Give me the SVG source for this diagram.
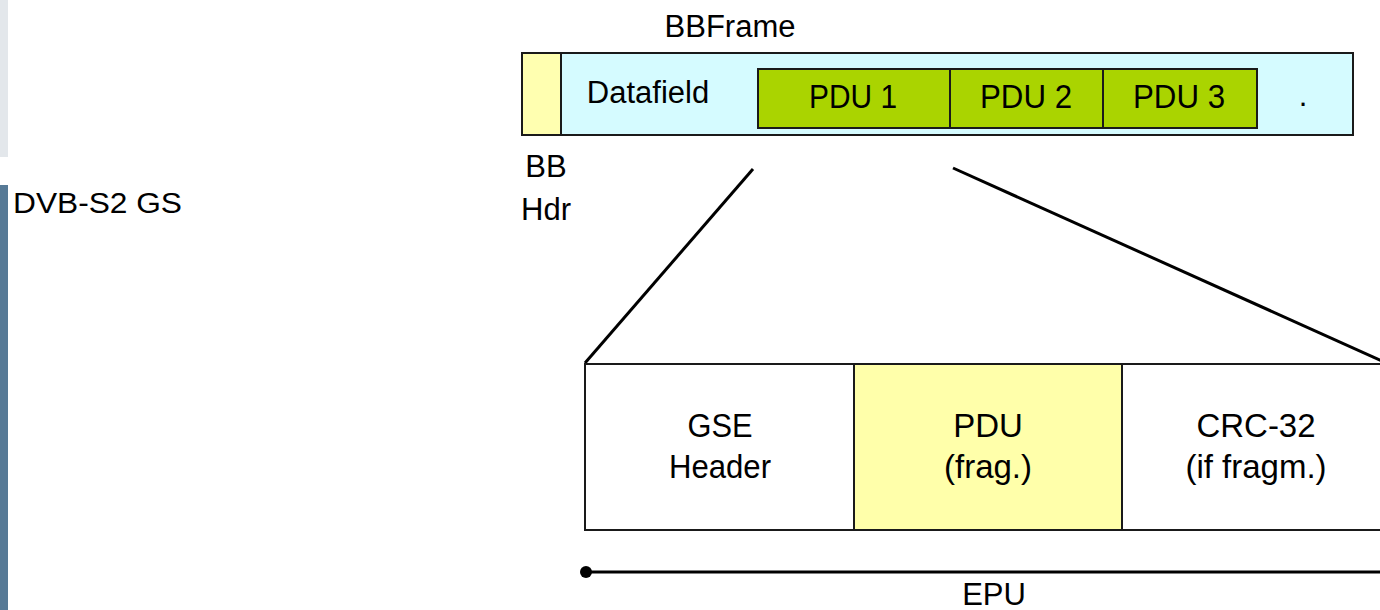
<svg xmlns="http://www.w3.org/2000/svg" width="1380" height="610" viewBox="0 0 1380 610">
<style>
text{font-family:"Liberation Sans",Arial,sans-serif;fill:#000;text-anchor:middle}
.box{stroke:#1a1a1a;stroke-width:2}
.ln{stroke:#000;stroke-width:3;fill:none}
</style>
<rect width="1380" height="610" fill="#fff"/>
<rect x="0" y="0" width="8" height="157" fill="#e3e7eb"/>
<rect x="0" y="185" width="8" height="425" fill="#577a96"/>
<text x="13" y="213" font-size="29" style="text-anchor:start" textLength="169" lengthAdjust="spacingAndGlyphs">DVB-S2 GS</text>

<g id="bbframe">
<text x="730" y="37" font-size="31">BBFrame</text>
<rect class="box" x="522" y="53" width="831" height="82" fill="#d5fbff"/>
<text x="648" y="103" font-size="31">Datafield</text>
<text x="1303" y="106" font-size="31">.</text>
</g>
<g id="bbhdr">
<rect class="box" x="522" y="53" width="39" height="82" fill="#ffffb0"/>
<text x="546" y="177" font-size="31">BB</text>
<text x="546" y="220" font-size="31">Hdr</text>
</g>
<g id="pdu1">
<rect class="box" x="758" y="69" width="192" height="59" fill="#aad400"/>
<text x="853" y="108" font-size="34" textLength="88" lengthAdjust="spacingAndGlyphs">PDU 1</text>
</g>
<g id="pdu2">
<rect class="box" x="950" y="69" width="153" height="59" fill="#aad400"/>
<text x="1026" y="108" font-size="34" textLength="92" lengthAdjust="spacingAndGlyphs">PDU 2</text>
</g>
<g id="pdu3">
<rect class="box" x="1103" y="69" width="154" height="59" fill="#aad400"/>
<text x="1179" y="108" font-size="34" textLength="92" lengthAdjust="spacingAndGlyphs">PDU 3</text>
</g>

<g id="connectors">
<line class="ln" x1="753" y1="169" x2="585" y2="363"/>
<line class="ln" x1="953" y1="168" x2="1382" y2="361"/>
<line x1="585" y1="572" x2="1380" y2="572" stroke="#000" stroke-width="3"/>
<circle cx="586" cy="572" r="6" fill="#000"/>
</g>

<g id="gse-header">
<rect class="box" x="585" y="364" width="269" height="166" fill="#fff"/>
<text x="720" y="437" font-size="33" textLength="65" lengthAdjust="spacingAndGlyphs">GSE</text>
<text x="720" y="478" font-size="33" textLength="102" lengthAdjust="spacingAndGlyphs">Header</text>
</g>
<g id="pdu-frag">
<rect class="box" x="854" y="364" width="268" height="166" fill="#ffffaa"/>
<text x="988" y="437" font-size="33">PDU</text>
<text x="988" y="478" font-size="33">(frag.)</text>
</g>
<g id="crc32">
<rect class="box" x="1122" y="364" width="270" height="166" fill="#fff"/>
<text x="1256" y="437" font-size="33">CRC-32</text>
<text x="1256" y="478" font-size="33">(if fragm.)</text>
</g>
<g id="epu">
<text x="994" y="605" font-size="31">EPU</text>
</g>
</svg>
